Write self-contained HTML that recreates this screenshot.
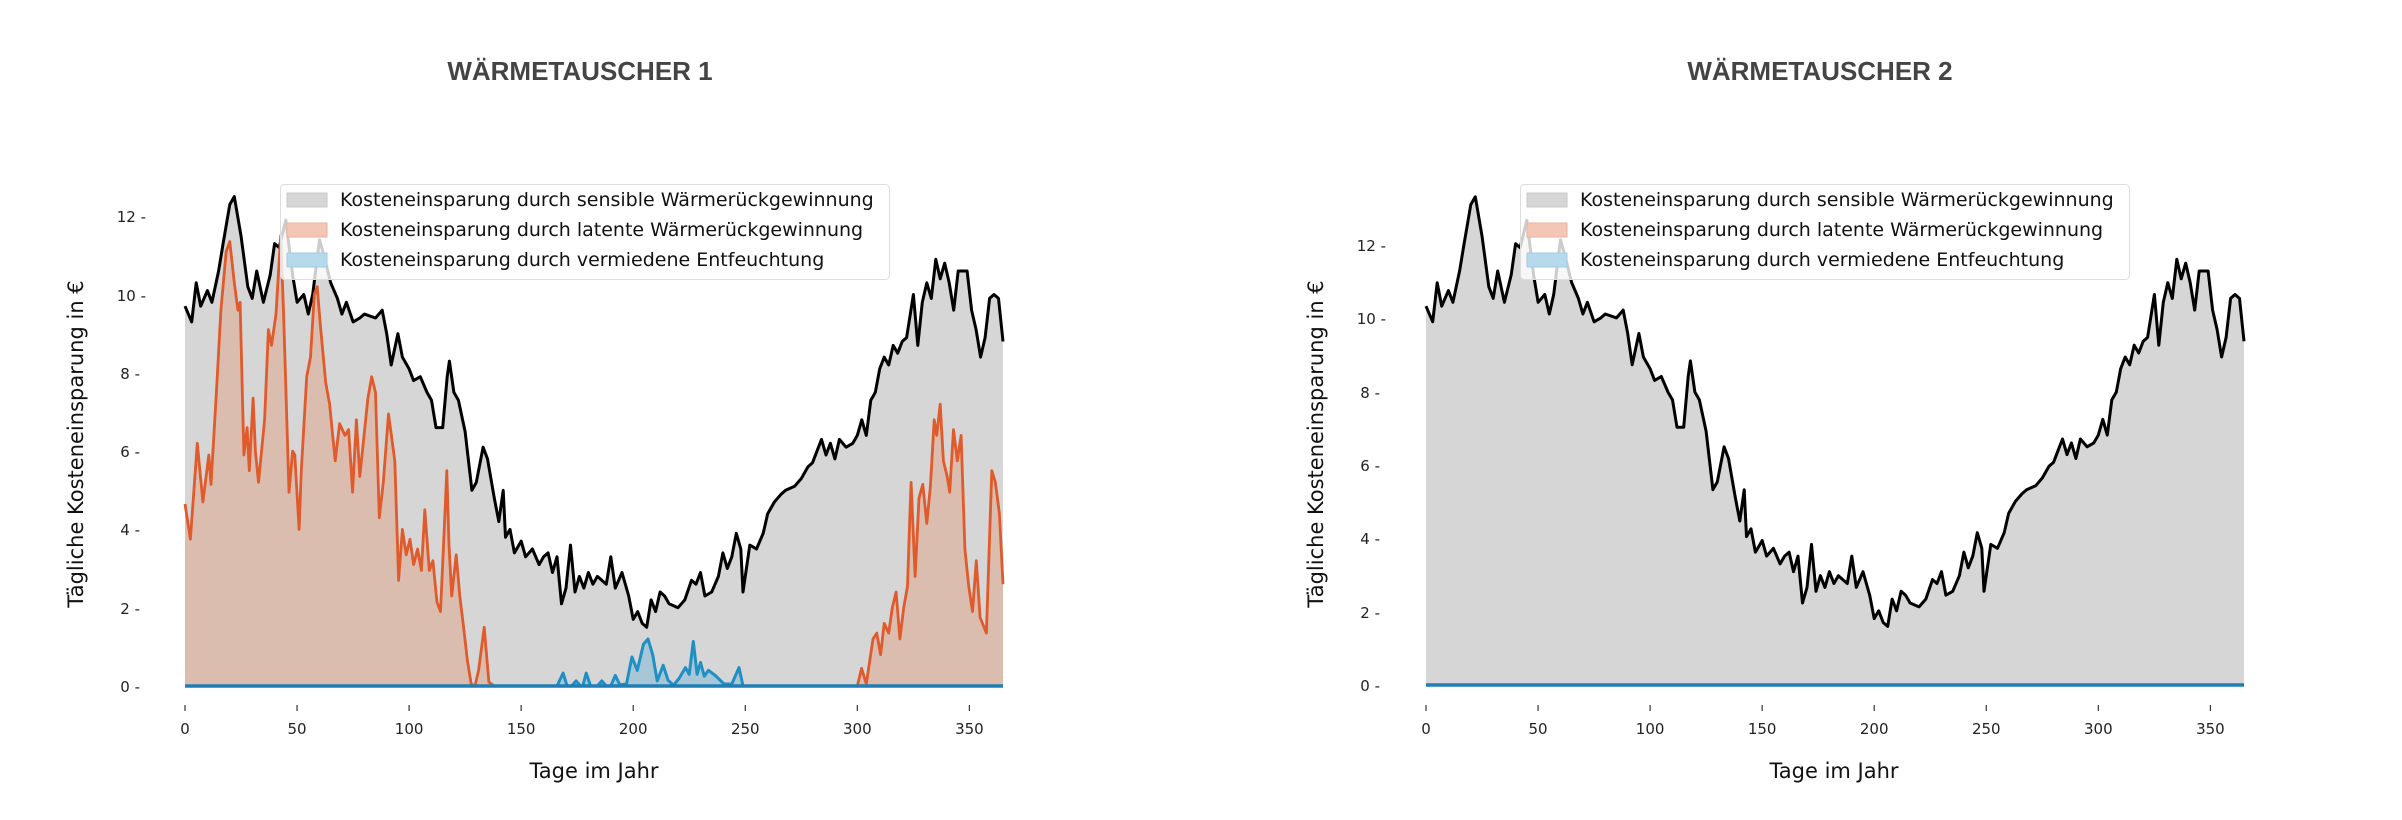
<!DOCTYPE html>
<html><head><meta charset="utf-8"><style>
html,body{margin:0;padding:0;background:#fff;}
svg{display:block;}
.t{font-family:"Liberation Sans",sans-serif;font-weight:bold;font-size:26px;fill:#444;}
.tk{font-family:"DejaVu Sans",sans-serif;font-size:15px;fill:#222;}
.al{font-family:"DejaVu Sans",sans-serif;font-size:21px;fill:#111;}
.lg{font-family:"DejaVu Sans",sans-serif;font-size:19px;fill:#111;}
</style></head><body>
<svg id="s" width="2402" height="820" viewBox="0 0 2402 820" xmlns="http://www.w3.org/2000/svg">
<text class="t" x="580" y="80" text-anchor="middle">WÄRMETAUSCHER 1</text>
<text class="t" x="1820" y="80" text-anchor="middle">WÄRMETAUSCHER 2</text>
<g id="p1"></g><g id="p2"></g>
<g id="ticks1" class="tk">
<text x="140" y="692" text-anchor="end">0 -</text>
<text x="140" y="614" text-anchor="end">2 -</text>
<text x="140" y="535" text-anchor="end">4 -</text>
<text x="140" y="457" text-anchor="end">6 -</text>
<text x="140" y="379" text-anchor="end">8 -</text>
<text x="146" y="301" text-anchor="end">10 -</text>
<text x="146" y="222" text-anchor="end">12 -</text>
</g>
<g class="tk">
<text x="1380" y="691" text-anchor="end">0 -</text>
<text x="1380" y="618" text-anchor="end">2 -</text>
<text x="1380" y="544" text-anchor="end">4 -</text>
<text x="1380" y="471" text-anchor="end">6 -</text>
<text x="1380" y="398" text-anchor="end">8 -</text>
<text x="1386" y="324" text-anchor="end">10 -</text>
<text x="1386" y="251" text-anchor="end">12 -</text>
</g>
<g id="xt" class="tk"></g>
<text class="al" transform="translate(83,444) rotate(-90)" text-anchor="middle">Tägliche Kosteneinsparung in €</text>
<text class="al" transform="translate(1323,444) rotate(-90)" text-anchor="middle">Tägliche Kosteneinsparung in €</text>
<text class="al" x="594" y="778" text-anchor="middle">Tage im Jahr</text>
<text class="al" x="1834" y="778" text-anchor="middle">Tage im Jahr</text>
<g>
<rect x="280.5" y="184.5" width="609" height="95" rx="4" fill="#fff" fill-opacity="0.8" stroke="#ddd"/>
<rect x="287" y="193" width="40" height="14" fill="#d6d6d6" stroke="#c8c8c8"/>
<rect x="287" y="223" width="40" height="14" fill="#f3c6b6" stroke="#ebb39f"/>
<rect x="287" y="253" width="40" height="14" fill="#b6daec" stroke="#9fcde4"/>
<text class="lg" x="340" y="206">Kosteneinsparung durch sensible Wärmerückgewinnung</text>
<text class="lg" x="340" y="236">Kosteneinsparung durch latente Wärmerückgewinnung</text>
<text class="lg" x="340" y="266">Kosteneinsparung durch vermiedene Entfeuchtung</text>
</g>
<g>
<rect x="1520.5" y="184.5" width="609" height="95" rx="4" fill="#fff" fill-opacity="0.8" stroke="#ddd"/>
<rect x="1527" y="193" width="40" height="14" fill="#d6d6d6" stroke="#c8c8c8"/>
<rect x="1527" y="223" width="40" height="14" fill="#f3c6b6" stroke="#ebb39f"/>
<rect x="1527" y="253" width="40" height="14" fill="#b6daec" stroke="#9fcde4"/>
<text class="lg" x="1580" y="206">Kosteneinsparung durch sensible Wärmerückgewinnung</text>
<text class="lg" x="1580" y="236">Kosteneinsparung durch latente Wärmerückgewinnung</text>
<text class="lg" x="1580" y="266">Kosteneinsparung durch vermiedene Entfeuchtung</text>
</g>
</svg>
<script>
var B=[0,9.7,3,9.3,5,10.3,7,9.7,10,10.1,12,9.8,15,10.6,17,11.3,20,12.3,22,12.5,25,11.5,28,10.2,30,9.9,32,10.6,35,9.8,38,10.5,40,11.3,42,11.2,45,11.9,48,10.5,50,9.8,53,10.0,55,9.5,57,10.0,60,11.4,62,11.0,65,10.3,68,9.9,70,9.5,72,9.8,75,9.3,78,9.4,80,9.5,85,9.4,88,9.6,90,9.0,92,8.2,95,9.0,97,8.4,100,8.1,102,7.8,105,7.9,108,7.5,110,7.3,112,6.6,115,6.6,117,7.9,118,8.3,120,7.5,122,7.3,125,6.5,128,5.0,130,5.2,133,6.1,135,5.8,138,4.8,140,4.2,142,5.0,143,3.8,145,4.0,147,3.4,150,3.7,152,3.3,155,3.5,158,3.1,160,3.3,162,3.4,164,2.9,166,3.3,168,2.1,170,2.5,172,3.6,174,2.4,176,2.8,178,2.5,180,2.9,182,2.6,184,2.8,186,2.7,188,2.6,190,3.3,192,2.5,195,2.9,198,2.3,200,1.7,202,1.9,204,1.6,206,1.5,208,2.2,210,1.9,212,2.4,214,2.3,216,2.1,220,2.0,223,2.2,226,2.7,228,2.6,230,2.9,232,2.3,235,2.4,238,2.8,240,3.4,242,3.0,244,3.3,246,3.9,248,3.5,249,2.4,252,3.6,255,3.5,258,3.9,260,4.4,263,4.7,266,4.9,268,5.0,272,5.1,275,5.3,278,5.6,280,5.7,282,6.0,284,6.3,286,5.9,288,6.2,290,5.8,292,6.3,295,6.1,298,6.2,300,6.4,302,6.8,304,6.4,306,7.3,308,7.5,310,8.1,312,8.4,314,8.2,316,8.7,318,8.5,320,8.8,322,8.9,325,10.0,327,8.7,329,9.8,331,10.3,333,9.9,335,10.9,337,10.4,339,10.8,341,10.3,343,9.6,345,10.6,349,10.6,351,9.6,353,9.1,355,8.4,357,8.9,359,9.9,361,10.0,363,9.9,365,8.8];
var O=[0,4.65,2.4,3.75,5.5,6.2,8,4.7,10.6,5.9,11.6,5.15,14,7.5,16,9.6,18.4,11.1,20,11.35,22,10.3,23.6,9.6,24.6,9.8,26.3,5.9,27.7,6.6,28.7,5.5,30.4,7.35,31.4,6.0,32.8,5.2,35.5,6.8,37.2,9.1,38.6,8.7,40.6,9.5,42.7,11.5,44,9.5,46.4,4.95,48,6.0,49,5.9,50.9,4.0,51.9,5.5,54.3,7.9,56,8.4,57.7,10.0,59,10.2,60.4,9.2,62.8,7.75,64.5,7.2,67,5.75,69,6.7,71.4,6.4,73,6.55,74.8,4.95,76.5,6.8,78,5.35,81.6,7.35,83.3,7.9,85,7.5,86.7,4.3,88.5,5.2,90.8,6.95,93.6,5.75,94.6,4.0,95.3,2.7,97,4.0,98.7,3.35,100.4,3.75,102,3.1,103.8,3.5,105.5,2.95,107,4.5,109,2.95,110.6,3.2,112.4,2.15,114,1.9,115.8,4.15,116.8,5.5,117.8,3.6,119,2.3,121,3.35,122.6,2.3,124.3,1.5,126,0.65,127.7,0.05,129.4,0,131,0.4,133.5,1.5,135.6,0.1,138,0,300,0,301.9,0.45,304,0.05,307,1.2,308.7,1.35,310.4,0.8,312,1.6,314,1.35,315.6,2.0,317.3,2.4,319,1.2,320.7,2.0,322.4,2.55,323.4,4.3,324,5.2,325.8,2.8,327.5,4.8,329.2,5.15,331,4.15,332.6,5.1,334.3,6.8,335.4,6.4,337,7.2,338.4,5.75,340.1,5.35,341.2,4.95,342.9,6.55,344.6,5.75,346.3,6.4,348,3.5,349.7,2.55,351.4,1.9,353.1,3.2,354.8,1.75,357.6,1.35,360,5.5,361.6,5.2,363.4,4.4,365,2.6];
var U=[0,0,166,0,168.7,0.33,170.5,0,172.5,0,174.5,0.13,176.5,0,177.5,0,179,0.33,181,0,184,0,186,0.13,188,0,190,0,192,0.27,194,0.03,197,0.05,199.4,0.74,201.8,0.4,204.6,1.07,206.6,1.2,208.7,0.8,210.7,0.13,213.4,0.53,215.5,0.15,218,0.02,220.5,0.2,223.3,0.47,225,0.3,226.8,1.14,228.5,0.3,230,0.6,231.7,0.25,233.6,0.4,237,0.25,240.5,0.05,244,0.05,247.2,0.47,249,0,365,0];
function path(a,xm,ym){var s='';for(var i=0;i<a.length;i+=2){s+=(i?'L':'M')+xm(a[i]).toFixed(1)+','+ym(a[i+1]).toFixed(1);}return s;}
function area(a,xm,ym){return path(a,xm,ym)+'L'+xm(a[a.length-2]).toFixed(1)+','+ym(0)+'L'+xm(a[0]).toFixed(1)+','+ym(0)+'Z';}
function draw(id,x0,x1,y0,py,sc,latent,blue){
 var xm=function(d){return x0+d*(x1-x0)/365;},ym=function(v){return y0-v*py;};
 var b=[];for(var i=0;i<B.length;i+=2){b.push(B[i],B[i+1]*sc);}
 var h='<path d="'+area(b,xm,ym)+'" fill="#d6d6d6"/>';
 if(latent){h+='<path d="'+area(O,xm,ym)+'" fill="#e8835a" fill-opacity="0.3"/>';
  h+='<path d="'+area(U,xm,ym)+'" fill="#3aa6d6" fill-opacity="0.3"/>';}
 h+='<path d="'+path(b,xm,ym)+'" fill="none" stroke="#000" stroke-width="3" stroke-linejoin="round"/>';
 if(latent){h+='<path d="'+path(O,xm,ym)+'" fill="none" stroke="#e05a2b" stroke-width="2.8" stroke-linejoin="round"/>';
  h+='<path d="'+path(U,xm,ym)+'" fill="none" stroke="#1f8fc4" stroke-width="3" stroke-linejoin="round"/>';}
 h+='<line x1="'+x0+'" y1="'+y0+'" x2="'+x1+'" y2="'+y0+'" stroke="#1f7fb4" stroke-width="3.5"/>';
 var t='';for(var d=0;d<=350;d+=50){var x=xm(d);t+='<line x1="'+x+'" y1="705" x2="'+x+'" y2="711" stroke="#333" stroke-width="1.2"/><text x="'+x+'" y="734" text-anchor="middle">'+d+'</text>';}
 document.getElementById(id).innerHTML=h;
 document.getElementById('xt').innerHTML+=t;
}
draw('p1',185,1003,686,39.15,1,true,true);
draw('p2',1426,2244,685,36.67,1.065,false,false);
</script>
</body></html>
